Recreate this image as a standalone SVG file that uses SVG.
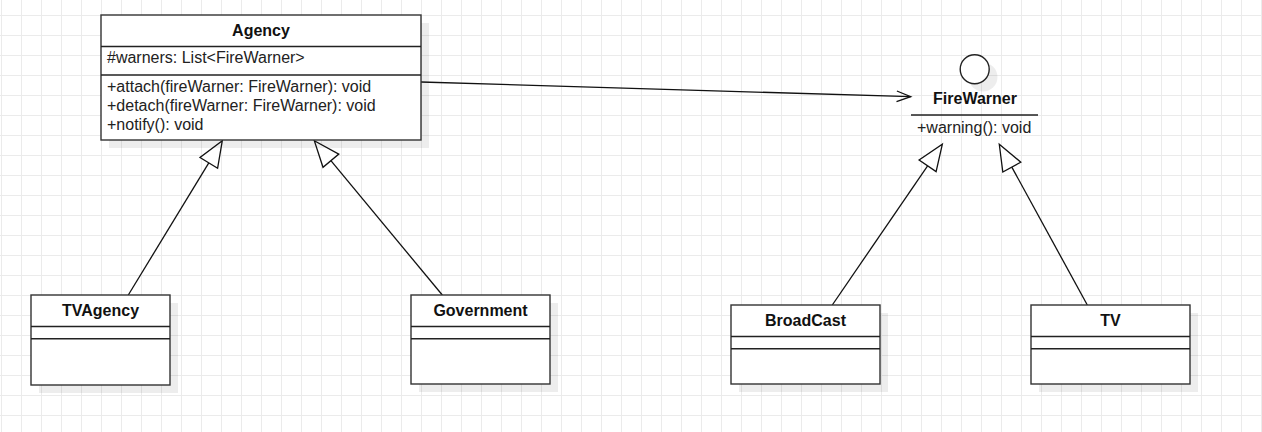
<svg xmlns="http://www.w3.org/2000/svg" width="1262" height="432" viewBox="0 0 1262 432">
<style>
.box{fill:#ffffff;stroke:#333333;stroke-width:1.4}
.sh{fill:#000000;fill-opacity:0.07;stroke:none}
.sep{stroke:#222222;stroke-width:1.4;fill:none}
.t{font-family:"Liberation Sans",Arial,sans-serif;font-size:16px;fill:#222222}
.b{font-family:"Liberation Sans",Arial,sans-serif;font-size:16px;font-weight:bold;fill:#111111;text-anchor:middle}
.edge{stroke:#111111;stroke-width:1.3;fill:none}
.tri{stroke:#111111;stroke-width:1.3;fill:#ffffff}
</style>
<defs>
<pattern id="grid" x="1" y="15" width="20" height="20" patternUnits="userSpaceOnUse">
<path d="M0 0.5 H20 M0.5 0 V20" stroke="#ebebeb" stroke-width="1" fill="none"/>
</pattern>
</defs>
<rect x="0" y="0" width="1262" height="432" fill="#ffffff"/>
<rect x="0" y="0" width="1262" height="432" fill="url(#grid)"/>

<g id="connectors">
<line class="edge" x1="421" y1="82" x2="910.7" y2="96.7"/>
<polyline class="edge" points="896.9,91 910.7,96.7 896.5,101.6"/>
<line class="edge" x1="128.3" y1="295" x2="208.8" y2="162.9"/>
<polygon class="tri" points="222.3,140.7 217.6,168.3 200,157.5"/>
<line class="edge" x1="442.3" y1="295" x2="330.9" y2="160.7"/>
<polygon class="tri" points="314.3,140.7 338.8,154.1 323,167.3"/>
<line class="edge" x1="832.3" y1="305" x2="927.6" y2="165.8"/>
<polygon class="tri" points="942.3,144.3 936.1,171.6 919.1,160"/>
<line class="edge" x1="1087.3" y1="305" x2="1011.8" y2="167.1"/>
<polygon class="tri" points="999.3,144.3 1020.8,162.2 1002.8,172"/>
</g>

<g id="agency">
<rect class="sh" x="109" y="23" width="320" height="125"/>
<rect class="box" x="101" y="15" width="320" height="125"/>
<line class="sep" x1="101" y1="46.5" x2="421" y2="46.5"/>
<line class="sep" x1="101" y1="75" x2="421" y2="75"/>
<text class="b" x="261" y="36">Agency</text>
<text class="t" x="107" y="63">#warners: List&lt;FireWarner&gt;</text>
<text class="t" x="107" y="92">+attach(fireWarner: FireWarner): void</text>
<text class="t" x="107" y="111">+detach(fireWarner: FireWarner): void</text>
<text class="t" x="107" y="130">+notify(): void</text>
</g>

<g id="firewarner">
<circle cx="983" cy="77" r="14.5" fill="#000000" fill-opacity="0.07"/>
<circle cx="974.7" cy="69.3" r="14.5" fill="#ffffff" stroke="#222222" stroke-width="1.4"/>
<text class="b" x="975" y="104">FireWarner</text>
<line class="sep" x1="911" y1="115" x2="1038" y2="115"/>
<text class="t" x="917" y="132.5">+warning(): void</text>
</g>

<g id="tvagency">
<rect class="sh" x="39" y="303" width="139" height="90"/>
<rect class="box" x="31" y="295" width="139" height="90"/>
<line class="sep" x1="31" y1="326.5" x2="170" y2="326.5"/>
<line class="sep" x1="31" y1="338.7" x2="170" y2="338.7"/>
<text class="b" x="100.5" y="316">TVAgency</text>
</g>

<g id="government">
<rect class="sh" x="419" y="303" width="139" height="89"/>
<rect class="box" x="411" y="295" width="139" height="89"/>
<line class="sep" x1="411" y1="326.5" x2="550" y2="326.5"/>
<line class="sep" x1="411" y1="338.7" x2="550" y2="338.7"/>
<text class="b" x="480.5" y="316">Government</text>
</g>

<g id="broadcast">
<rect class="sh" x="739" y="313" width="149" height="79"/>
<rect class="box" x="731" y="305" width="149" height="79"/>
<line class="sep" x1="731" y1="336.5" x2="880" y2="336.5"/>
<line class="sep" x1="731" y1="348.7" x2="880" y2="348.7"/>
<text class="b" x="805.5" y="326">BroadCast</text>
</g>

<g id="tv">
<rect class="sh" x="1039" y="313" width="159" height="79"/>
<rect class="box" x="1031" y="305" width="159" height="79"/>
<line class="sep" x1="1031" y1="336.5" x2="1190" y2="336.5"/>
<line class="sep" x1="1031" y1="348.7" x2="1190" y2="348.7"/>
<text class="b" x="1110.5" y="326">TV</text>
</g>
</svg>
